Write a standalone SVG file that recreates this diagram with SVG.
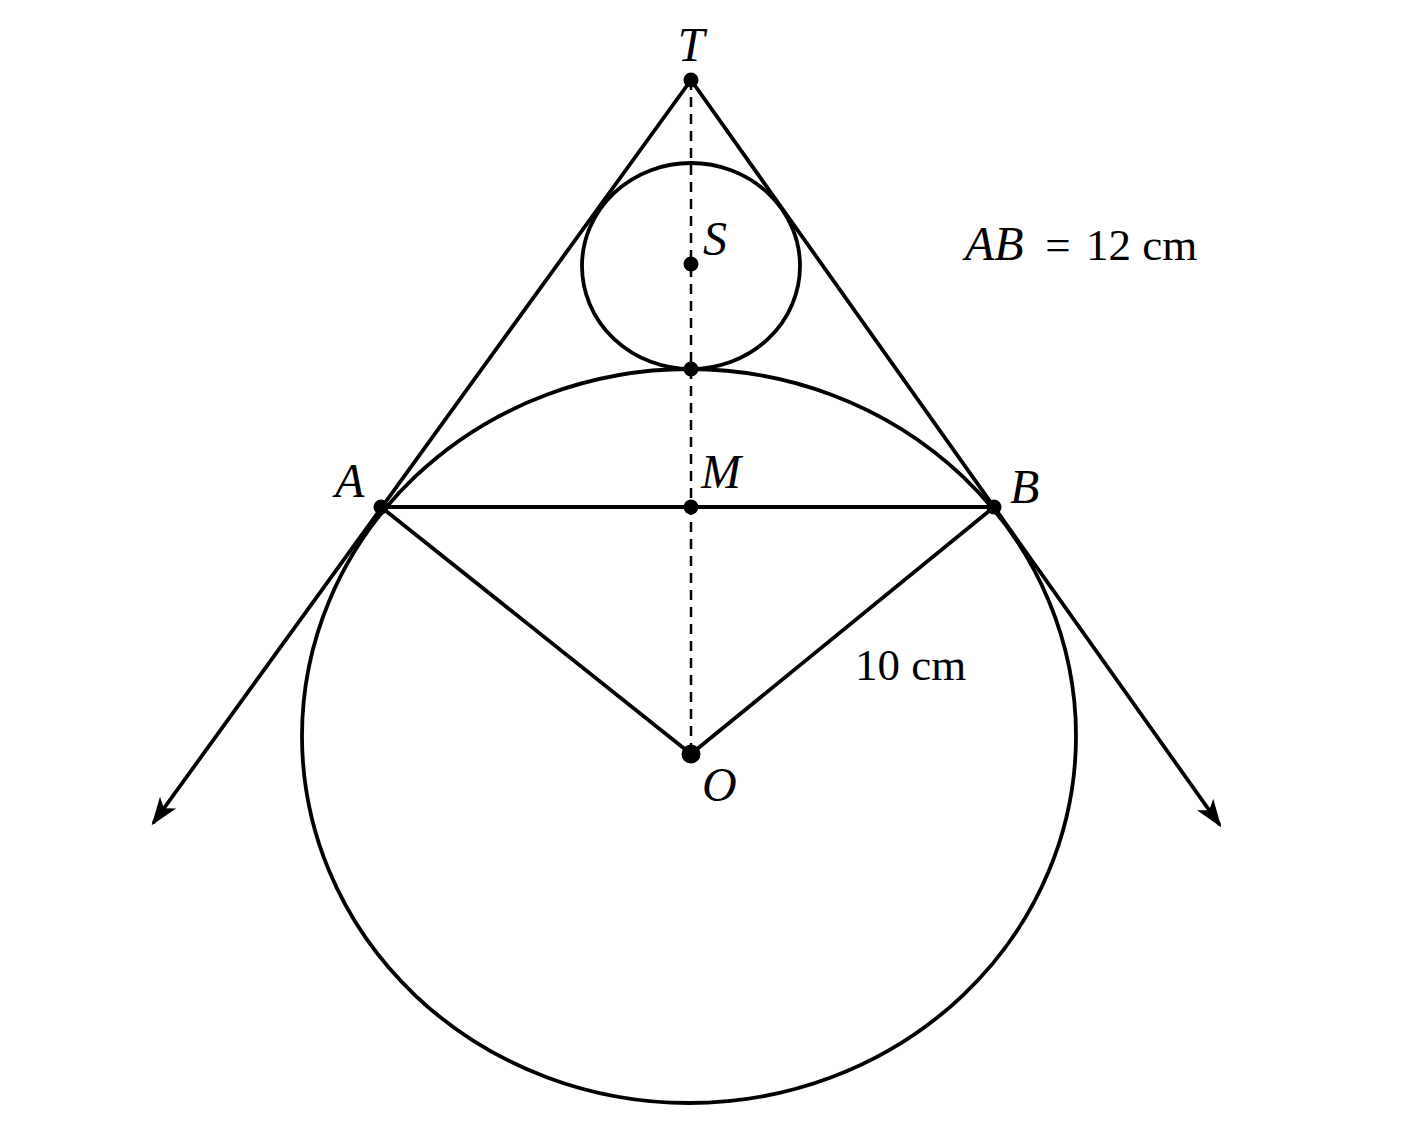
<svg xmlns="http://www.w3.org/2000/svg" width="1402" height="1122" viewBox="0 0 1402 1122">
<style>
.ln{stroke:#000;stroke-width:3.8;fill:none;stroke-linecap:round}
.dash{stroke:#000;stroke-width:2.5;fill:none;stroke-dasharray:10 7}
.lbl{font-family:"Liberation Serif","Times New Roman",serif;font-style:italic;font-size:48px;fill:#000}
.txt{font-family:"Liberation Serif","Times New Roman",serif;font-size:45px;fill:#000}
.dot{fill:#000}
</style>
<defs>
<marker id="arr" markerUnits="userSpaceOnUse" markerWidth="40" markerHeight="30" viewBox="-30 -15 40 30" refX="0" refY="0" orient="auto">
<path d="M4,0 L-24,-10 L-17,0 L-24,10 Z" fill="#000"/>
</marker>
</defs>
<rect width="1402" height="1122" fill="#fff"/>
<g id="circles">
<ellipse id="big-circle" class="ln" cx="689" cy="736" rx="387" ry="367"/>
<ellipse id="small-circle" class="ln" cx="691" cy="266" rx="109" ry="103"/>
</g>
<g id="connectors">
<line class="dash" x1="691" y1="80" x2="691" y2="754"/>
<line class="ln" x1="691" y1="80" x2="154" y2="822" marker-end="url(#arr)"/>
<line class="ln" x1="691" y1="80" x2="1219" y2="824" marker-end="url(#arr)"/>
<line class="ln" x1="381" y1="507" x2="994" y2="507"/>
<line class="ln" x1="381" y1="507" x2="691" y2="754"/>
<line class="ln" x1="994" y1="507" x2="691" y2="754"/>
</g>
<g id="T"><circle class="dot" cx="691" cy="80" r="7.5"/><text class="lbl" x="691" y="61" text-anchor="middle">T</text></g>
<g id="S"><circle class="dot" cx="691" cy="264" r="7.5"/><text class="lbl" x="703" y="255">S</text></g>
<g id="P"><circle class="dot" cx="691" cy="369" r="7.5"/></g>
<g id="M"><circle class="dot" cx="691" cy="507" r="7.5"/><text class="lbl" x="701" y="488">M</text></g>
<g id="A"><circle class="dot" cx="381" cy="507" r="7.5"/><text class="lbl" x="335" y="497">A</text></g>
<g id="B"><circle class="dot" cx="994" cy="507" r="7.5"/><text class="lbl" x="1010" y="503">B</text></g>
<g id="O"><circle class="dot" cx="691" cy="754" r="9.5"/><text class="lbl" x="702" y="801">O</text></g>
<g id="info">
<text class="lbl" x="965" y="260">AB</text>
<text class="txt" x="1058" y="260" text-anchor="middle">=</text>
<text class="txt" x="1086" y="260">12 cm</text>
</g>
<text id="len" class="txt" x="855" y="680">10 cm</text>
</svg>
